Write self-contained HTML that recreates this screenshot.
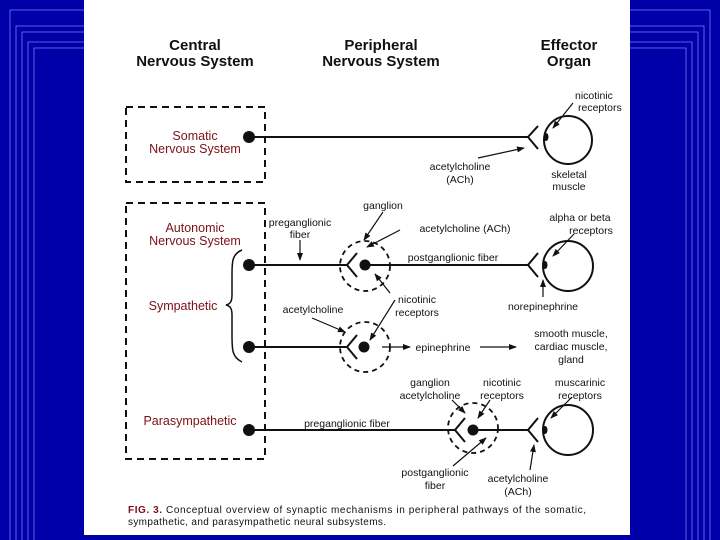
<!DOCTYPE html>
<html><head><meta charset="utf-8"><style>
html,body{margin:0;padding:0;width:720px;height:540px;overflow:hidden;background:#0000a8}
svg{display:block}
text{font-family:"Liberation Sans",sans-serif;fill:#111}
.h{font-weight:bold;font-size:15px}
.r{fill:#7a1018;font-size:12.5px}
.s{font-size:10.5px}
</style></head><body>
<svg width="720" height="540" viewBox="0 0 720 540" xmlns="http://www.w3.org/2000/svg">
<defs>
<marker id="a" markerWidth="8" markerHeight="8" refX="7" refY="4" orient="auto" markerUnits="userSpaceOnUse"><path d="M0,1 L8,4 L0,7 z" fill="#111"/></marker>
</defs>
<rect width="720" height="540" fill="#0000a8"/>
<g stroke="#7a7af0" stroke-width="0.8" fill="none">
<path d="M10,540 V10 H84"/><path d="M16,540 V26 H84"/><path d="M22,540 V32 H84"/><path d="M28,540 V42 H84"/><path d="M34,540 V48 H84"/>
<path d="M710,540 V10 H630"/><path d="M704,540 V26 H630"/><path d="M698,540 V32 H630"/><path d="M692,540 V42 H630"/><path d="M686,540 V48 H630"/>
</g>
<rect x="84" y="0" width="546" height="535" fill="#fff"/>

<text class="h" x="195" y="50" text-anchor="middle">Central</text>
<text class="h" x="195" y="66" text-anchor="middle">Nervous System</text>
<text class="h" x="381" y="50" text-anchor="middle">Peripheral</text>
<text class="h" x="381" y="66" text-anchor="middle">Nervous System</text>
<text class="h" x="569" y="50" text-anchor="middle">Effector</text>
<text class="h" x="569" y="66" text-anchor="middle">Organ</text>

<g stroke="#111" stroke-width="2" stroke-dasharray="7,5" fill="none">
<rect x="126" y="107" width="139" height="75"/>
<rect x="126" y="203" width="139" height="256"/>
</g>
<text class="r" x="195" y="140" text-anchor="middle">Somatic</text>
<text class="r" x="195" y="153" text-anchor="middle">Nervous System</text>
<text class="r" x="195" y="232" text-anchor="middle">Autonomic</text>
<text class="r" x="195" y="245" text-anchor="middle">Nervous System</text>
<text class="r" x="183" y="310" text-anchor="middle">Sympathetic</text>
<text class="r" x="190" y="425" text-anchor="middle">Parasympathetic</text>
<path d="M242,250 C232,254 232,262 232,275 V295 C232,302 230,304 226,305 C230,306 232,308 232,315 V335 C232,350 232,357 242,362" stroke="#111" stroke-width="1.5" fill="none"/>

<g stroke="#111" stroke-width="2" fill="none">
<line x1="249" y1="137" x2="528" y2="137"/>
<path d="M538,126 L528,137 L538,149"/>
<circle cx="568" cy="140" r="24"/>
<line x1="249" y1="265" x2="347" y2="265"/>
<path d="M357,253 L347,265 L357,277"/>
<line x1="365" y1="265" x2="528" y2="265"/>
<path d="M538,253 L528,265 L538,277"/>
<circle cx="568" cy="266" r="25"/>
<line x1="249" y1="347" x2="347" y2="347"/>
<path d="M357,335 L347,347 L357,359"/>
<line x1="249" y1="430" x2="455" y2="430"/>
<path d="M465,418 L455,430 L465,442"/>
<line x1="473" y1="430" x2="528" y2="430"/>
<path d="M538,418 L528,430 L538,442"/>
<circle cx="568" cy="430" r="25"/>
</g>
<g stroke="#111" stroke-width="1.8" stroke-dasharray="5,4" fill="none">
<circle cx="365" cy="266" r="25"/>
<circle cx="365" cy="347" r="25"/>
<circle cx="473" cy="428" r="25"/>
</g>
<g fill="#111">
<circle cx="249" cy="137" r="6"/><circle cx="249" cy="265" r="6"/><circle cx="249" cy="347" r="6"/><circle cx="249" cy="430" r="6"/>
<circle cx="365" cy="265" r="5.5"/><circle cx="364" cy="347" r="5.5"/><circle cx="473" cy="430" r="5.5"/>
<ellipse cx="546" cy="137" rx="2.5" ry="4"/><ellipse cx="545" cy="265" rx="2.5" ry="4"/><ellipse cx="545" cy="430" rx="2.5" ry="4"/>
</g>

<g stroke="#111" stroke-width="1.2" fill="none" marker-end="url(#a)">
<line x1="573" y1="103" x2="553" y2="128"/>
<line x1="478" y1="158" x2="524" y2="148"/>
<line x1="300" y1="240" x2="300" y2="260"/>
<line x1="383" y1="212" x2="364" y2="240"/>
<line x1="400" y1="230" x2="367" y2="247"/>
<line x1="574" y1="234" x2="553" y2="256"/>
<line x1="543" y1="297" x2="543" y2="280"/>
<line x1="390" y1="293" x2="375" y2="274"/>
<line x1="395" y1="300" x2="370" y2="340"/>
<line x1="312" y1="318" x2="345" y2="332"/>
<line x1="382" y1="347" x2="410" y2="347"/>
<line x1="480" y1="347" x2="516" y2="347"/>
<line x1="452" y1="400" x2="465" y2="413"/>
<line x1="490" y1="400" x2="478" y2="418"/>
<line x1="572" y1="397" x2="551" y2="418"/>
<line x1="453" y1="466" x2="486" y2="438"/>
<line x1="530" y1="470" x2="534" y2="445"/>
</g>

<g class="s">
<text x="575" y="99">nicotinic</text>
<text x="578" y="111">receptors</text>
<text x="460" y="170" text-anchor="middle">acetylcholine</text>
<text x="460" y="183" text-anchor="middle">(ACh)</text>
<text x="569" y="178" text-anchor="middle">skeletal</text>
<text x="569" y="190" text-anchor="middle">muscle</text>
<text x="300" y="226" text-anchor="middle">preganglionic</text>
<text x="300" y="238" text-anchor="middle">fiber</text>
<text x="383" y="209" text-anchor="middle">ganglion</text>
<text x="465" y="232" text-anchor="middle">acetylcholine (ACh)</text>
<text x="453" y="261" text-anchor="middle">postganglionic fiber</text>
<text x="580" y="221" text-anchor="middle">alpha or beta</text>
<text x="591" y="234" text-anchor="middle">receptors</text>
<text x="543" y="310" text-anchor="middle">norepinephrine</text>
<text x="313" y="313" text-anchor="middle">acetylcholine</text>
<text x="417" y="303" text-anchor="middle">nicotinic</text>
<text x="417" y="316" text-anchor="middle">receptors</text>
<text x="443" y="351" text-anchor="middle">epinephrine</text>
<text x="571" y="337" text-anchor="middle">smooth muscle,</text>
<text x="571" y="350" text-anchor="middle">cardiac muscle,</text>
<text x="571" y="363" text-anchor="middle">gland</text>
<text x="430" y="386" text-anchor="middle">ganglion</text>
<text x="430" y="399" text-anchor="middle">acetylcholine</text>
<text x="502" y="386" text-anchor="middle">nicotinic</text>
<text x="502" y="399" text-anchor="middle">receptors</text>
<text x="580" y="386" text-anchor="middle">muscarinic</text>
<text x="580" y="399" text-anchor="middle">receptors</text>
<text x="347" y="427" text-anchor="middle">preganglionic fiber</text>
<text x="435" y="476" text-anchor="middle">postganglionic</text>
<text x="435" y="489" text-anchor="middle">fiber</text>
<text x="518" y="482" text-anchor="middle">acetylcholine</text>
<text x="518" y="495" text-anchor="middle">(ACh)</text>
</g>
<text x="128" y="513" font-size="10" textLength="458" lengthAdjust="spacing"><tspan font-weight="bold" style="fill:#7a1018">FIG. 3.</tspan> Conceptual overview of synaptic mechanisms in peripheral pathways of the somatic,</text>
<text x="128" y="525" font-size="10" textLength="258" lengthAdjust="spacing">sympathetic, and parasympathetic neural subsystems.</text>
</svg>
</body></html>
